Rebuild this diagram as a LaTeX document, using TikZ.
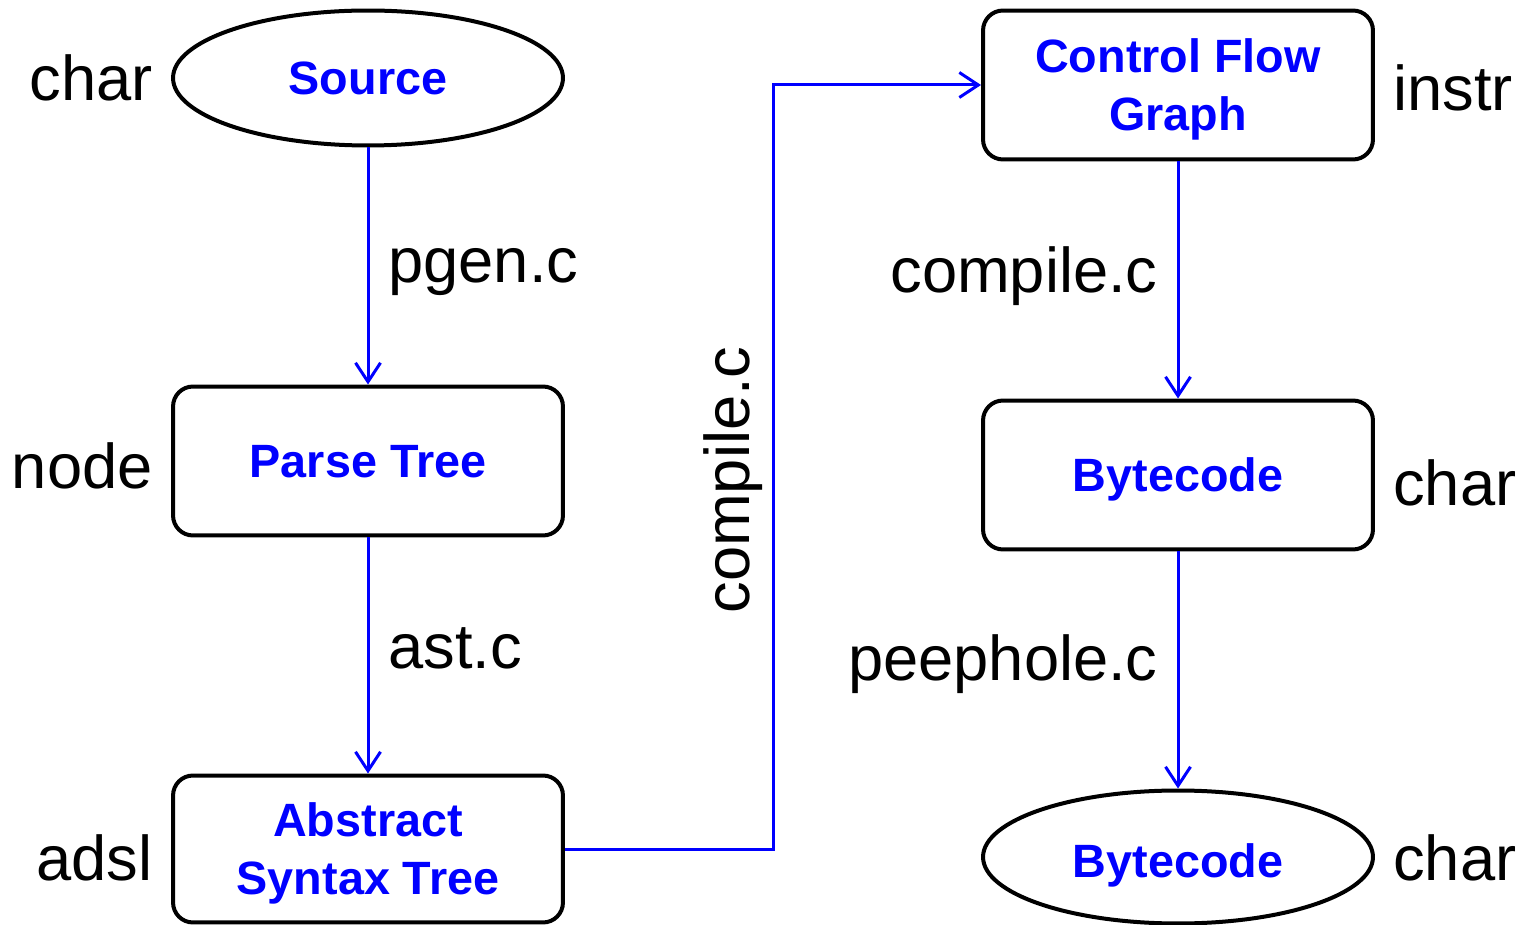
\documentclass[tikz,border=0pt]{standalone}
\usepackage{fontspec}
\setmainfont{Liberation Sans}
\usetikzlibrary{shapes.geometric,arrows.meta}

\definecolor{flowblue}{RGB}{0,0,255}

\tikzset{
  stage/.style={draw=black, line width=0.08cm, rounded corners=0.4cm,
    minimum width=7.8cm, minimum height=2.98cm, inner sep=0pt,
    text depth=0pt,
    align=center, text=flowblue, font=\fontsize{26.6}{33}\selectfont\bfseries},
  endpoint/.style={ellipse, draw=black, line width=0.08cm,
    minimum width=7.8cm, minimum height=2.7cm, inner sep=0pt,
    text depth=0pt,
    align=center, text=flowblue, font=\fontsize{26.6}{33}\selectfont\bfseries},
  flow/.style={draw=flowblue, line width=0.06cm,
    -{Straight Barb[length=0.38cm, width=0.5cm, line width=0.06cm]}},
  kind/.style={inner sep=0pt, font=\fontsize{36}{40}\selectfont},
  tool/.style={inner sep=0pt, font=\fontsize{36}{40}\selectfont},
}

\begin{document}
\begin{tikzpicture}[x=0.02cm, y=-0.02cm]
  \useasboundingbox (0,0) rectangle (1525,925);

  % stages of the pipeline
  \node[endpoint] (src)   at (368,78)   {Source};
  \node[stage]    (parse) at (368,461)  {Parse Tree};
  \node[stage, minimum height=2.94cm] (ast) at (368,849) {Abstract\\Syntax Tree};
  \node[stage]    (cfg)   at (1178,85)  {Control Flow\\Graph};
  \node[stage]    (bc)    at (1178,475) {Bytecode};
  \node[endpoint, minimum height=2.66cm, text height=0.82cm] (bce) at (1178,857) {Bytecode};

  % data kinds beside each stage
  \node[kind, anchor=east] (k1) at (153,78)  {char};
  \node[kind, anchor=east] (k2) at (153,466) {node};
  \node[kind, anchor=east] (k3) at (153,858) {adsl};
  \node[kind, anchor=west] (k4) at (1393,88)  {instr};
  \node[kind, anchor=west] (k5) at (1393,483) {char};
  \node[kind, anchor=west] (k6) at (1393,858) {char};

  % transitions
  \draw[flow] (src) -- (parse);
  \draw[flow] (parse) -- (ast);
  \coordinate (turn) at (773,849);
  \draw[flow] (ast.east) -- (turn) |- (cfg.west);
  \draw[flow] (cfg) -- (bc);
  \draw[flow] (bc) -- (bce);

  % source files performing each step
  \node[tool, anchor=west] (t1) at (388,272) {pgen.c};
  \node[tool, anchor=west] (t2) at (388,648) {ast.c};
  \node[tool, rotate=90]   (t3) at (733,480) {compile.c};
  \node[tool, anchor=east] (t4) at (1158,276) {compile.c};
  \node[tool, anchor=east] (t5) at (1158,664) {peephole.c};
\end{tikzpicture}
\end{document}
